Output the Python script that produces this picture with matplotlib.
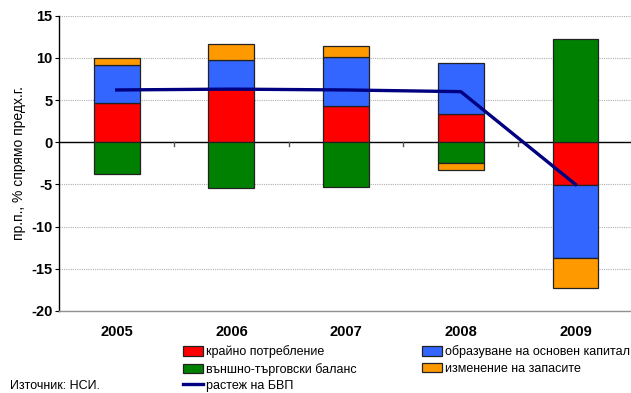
import numpy as np
import matplotlib.pyplot as plt

plt.rcParams['font.family'] = ['Liberation Sans', 'DejaVu Sans']
plt.rcParams['axes.unicode_minus'] = False

years = ['2005', '2006', '2007', '2008', '2009']
# приноси към растежа, пр.п.
potreblenie = [4.6, 6.3, 4.3, 3.4, -5.1]
kapital = [4.6, 3.4, 5.8, 6.0, -8.6]
balans = [-3.8, -5.4, -5.3, -2.4, 12.2]
zapasi = [0.8, 1.9, 1.3, -0.9, -3.6]
bvp = [6.2, 6.3, 6.2, 6.0, -5.0]

colors = {'potreblenie': '#ff0000', 'kapital': '#3366ff',
          'balans': '#008000', 'zapasi': '#ff9900'}

fig = plt.figure(figsize=(6.31, 3.93), dpi=100)
ax = fig.add_axes([0.0941, 0.2087, 0.9089, 0.7513])

x = np.arange(len(years))
w = 0.40
series = [(potreblenie, 'potreblenie', 'крайно потребление'),
          (kapital, 'kapital', 'образуване на основен капитал'),
          (balans, 'balans', 'външно-търговски баланс'),
          (zapasi, 'zapasi', 'изменение на запасите')]

pos_base = np.zeros(len(years))
neg_base = np.zeros(len(years))
handles = {}
for vals, key, label in series:
    vals = np.array(vals)
    bottom = np.where(vals >= 0, pos_base, neg_base)
    b = ax.bar(x, vals, w, bottom=bottom, color=colors[key],
               edgecolor='#222222', linewidth=0.9, label=label, zorder=3)
    handles[key] = b
    pos_base = pos_base + np.where(vals >= 0, vals, 0)
    neg_base = neg_base + np.where(vals < 0, vals, 0)

line, = ax.plot(x, bvp, color='#000080', linewidth=2.4, zorder=4,
                label='растеж на БВП')

ax.set_xlim(-0.5, len(years) - 0.5)
ax.set_ylim(-20, 15)
ax.set_yticks(np.arange(-20, 16, 5))
ax.yaxis.grid(True, color='#b0b0b0', linestyle=(0, (1, 1)), linewidth=0.8, zorder=0)
ax.axhline(0, color='black', linewidth=1.0, zorder=2)

for s in ['top', 'right']:
    ax.spines[s].set_visible(False)
ax.spines['left'].set_color('black')
ax.spines['left'].set_linewidth(1.0)
ax.spines['bottom'].set_color('#909090')
ax.spines['bottom'].set_linewidth(1.0)

ax.tick_params(axis='y', length=3, width=0.8, labelsize=10.5, pad=2)
for t in ax.get_yticklabels():
    t.set_fontweight('bold')

# годините под графиката, без чертички
ax.set_xticks(x)
ax.set_xticklabels(years, fontsize=10.5, fontweight='bold')
ax.tick_params(axis='x', length=0, pad=10)
# чертички по нулевата линия между годините
for xb in x[:-1] + 0.5:
    ax.plot([xb, xb], [0, -0.4], color='#555555', linewidth=1.0, zorder=2,
            clip_on=False)

ax.set_ylabel('пр.п., % спрямо предх.г.', fontsize=10, labelpad=4)

# ред в легендата: по колони
leg = fig.legend([handles['potreblenie'], handles['balans'], line,
                  handles['kapital'], handles['zapasi']],
                 ['крайно потребление', 'външно-търговски баланс',
                  'растеж на БВП', 'образуване на основен капитал',
                  'изменение на запасите'],
                 ncol=2, loc='upper left', bbox_to_anchor=(0.29, 0.121),
                 frameon=False, fontsize=9, handlelength=1.6, handleheight=0.75,
                 handletextpad=0.25, columnspacing=5.2, labelspacing=0.34,
                 borderpad=0, borderaxespad=0)

fig.text(0.016, 0.018, 'Източник: НСИ.', fontsize=9, ha='left', va='center')

fig.savefig('out.png', dpi=100)
